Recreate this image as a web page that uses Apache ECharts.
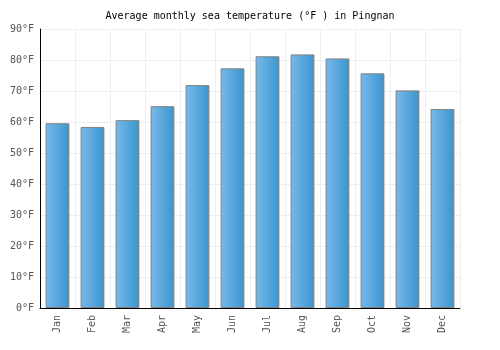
<!DOCTYPE html>
<html>
<head>
<meta charset="utf-8">
<script src="https://cdn.jsdelivr.net/npm/echarts@6/dist/echarts.min.js"></script>
<style>
  html, body { margin: 0; padding: 0; background: #fff; }
  #chart { width: 500px; height: 350px; }
</style>
</head>
<body>
<div id="chart"></div>
<script>
// data
const months = ['Jan', 'Feb', 'Mar', 'Apr', 'May', 'Jun', 'Jul', 'Aug', 'Sep', 'Oct', 'Nov', 'Dec']
const seaTemps = [59.6, 58.4, 60.6, 65.1, 71.9, 77.3, 81.2, 81.8, 80.5, 75.7, 70.2, 64.2]

const font = '"DejaVu Sans Mono", monospace'

const chart = echarts.init(document.getElementById('chart'))

chart.setOption({
  animation: false,
  backgroundColor: '#fff',
  title: {
    text: 'Average monthly sea temperature (°F ) in Pingnan',
    left: 'center',
    top: 6,
    textStyle: { fontFamily: font, fontSize: 10, fontWeight: 'normal', color: '#000' },
  },
  grid: { left: 40, right: 40, top: 29, bottom: 42 },
  xAxis: {
    type: 'category',
    data: months,
    axisLine: { lineStyle: { color: '#000', width: 1 } },
    axisTick: { show: false },
    axisLabel: { rotate: 90, color: '#555', fontFamily: font, fontSize: 10, margin: 7 },
    splitLine: { show: true, lineStyle: { color: '#eee' } },
  },
  yAxis: {
    type: 'value',
    min: 0,
    max: 90,
    interval: 10,
    axisLine: { show: true, lineStyle: { color: '#000', width: 1 } },
    axisTick: { show: false },
    axisLabel: { formatter: '{value}°F', color: '#555', fontFamily: font, fontSize: 10, margin: 6 },
    splitLine: { lineStyle: { color: '#eee' } },
  },
  series: [
    {
      type: 'bar',
      data: seaTemps,
      barWidth: '68%',
      itemStyle: {
        borderColor: '#808080',
        borderWidth: 1,
        color: {
          type: 'linear', x: 0, y: 0, x2: 1, y2: 0,
          colorStops: [
            { offset: 0, color: '#7ab8ea' },
            { offset: 1, color: '#3896cf' },
          ],
        },
      },
    },
  ],
})
</script>
</body>
</html>
